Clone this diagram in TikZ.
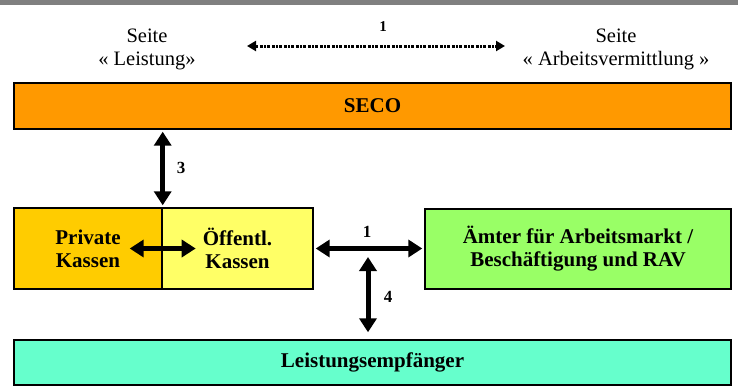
\documentclass[tikz,border=0pt]{standalone}
\usepackage{fontspec}
\setmainfont{LiberationSerif}[Extension=.ttf, UprightFont=*-Regular, BoldFont=*-Bold, ItalicFont=*-Italic, BoldItalicFont=*-BoldItalic]
\usetikzlibrary{arrows.meta}
\definecolor{barGray}{HTML}{808080}
\definecolor{secoC}{HTML}{FF9900}
\definecolor{privC}{HTML}{FFCC00}
\definecolor{oeffC}{HTML}{FFFF66}
\definecolor{amtC}{HTML}{99FF66}
\definecolor{leistC}{HTML}{66FFCC}
\tikzset{
  box/.style={draw=black, line width=1.4pt, rectangle, inner sep=0pt, align=center,
    font=\fontsize{21}{23}\selectfont\bfseries},
  sidetext/.style={align=center, inner sep=0pt, font=\fontsize{20.5}{23}\selectfont},
  numlabel/.style={inner sep=0pt, font=\fontsize{17}{17}\selectfont\bfseries},
  bigarrow/.style={line width=5pt, {Triangle[length=14pt,width=17pt]}-{Triangle[length=14pt,width=17pt]}},
  dasharrow/.style={line width=3pt, dash pattern=on 3pt off 1.5pt on 3pt off 1.5pt on 1.5pt off 1.5pt,
    {Triangle[length=9pt,width=10pt]}-{Triangle[length=9pt,width=10pt]}},
}
\begin{document}
\begin{tikzpicture}[x=1pt,y=-1pt]
\useasboundingbox (0,0) rectangle (738,391);
% top grey bar
\fill[barGray] (0,0) rectangle (738,5);
% side labels
\node[sidetext] (sl) at (147,49) {Seite\\« Leistung»};
\node[sidetext] (sr) at (616,49) {Seite\\« Arbeitsvermittlung »};
\coordinate (dl) at (247,46);
\coordinate (dr) at (505,46);
\draw[dasharrow] (dl) -- (dr);
\node[inner sep=0pt, font=\fontsize{15}{15}\selectfont\bfseries] (n1top) at (383,27) {1};
% boxes
\node[box, fill=secoC, minimum width=717pt, minimum height=46pt] (seco) at (372.5,106) {SECO};
\node[box, fill=privC, minimum width=148pt, minimum height=81pt] (priv) at (88,248.5) {Private\\Kassen};
\node[box, fill=oeffC, minimum width=151pt, minimum height=81pt] (oeff) at (237.5,248.5) {Öffentl.\\Kassen};
\node[box, fill=amtC, minimum width=306pt, minimum height=80pt] (amt) at (578,249) {Ämter für Arbeitsmarkt /\\Beschäftigung und RAV};
\node[box, fill=leistC, minimum width=717pt, minimum height=45pt] (leist) at (372.5,362.5) {Leistungsempfänger};
% arrows
\draw[bigarrow, shorten <=2pt, shorten >=2pt] (seco.south -| priv.north east) -- (priv.north east);
\draw[bigarrow] ([xshift=-33pt]priv.east) -- ([xshift=33pt]priv.east);
\draw[bigarrow, shorten <=2pt, shorten >=2pt] (oeff.east) -- (oeff.east -| amt.west);
\coordinate (junc) at (368,249);
\draw[bigarrow, shorten <=8pt, shorten >=7pt] (junc) -- (junc |- leist.north);
% labels
\node[numlabel] (n3) at (181,168) {3};
\node[numlabel] (n1) at (367,232) {1};
\node[numlabel] (n4) at (388,297) {4};
\end{tikzpicture}
\end{document}
